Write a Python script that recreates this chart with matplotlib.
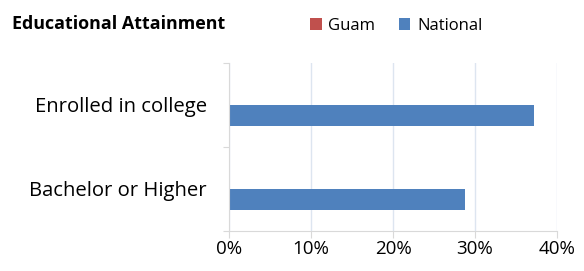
import matplotlib.pyplot as plt
import numpy as np

categories = ["Bachelor or Higher", "Enrolled in college"]
guam = [0.0, 0.0]
national = [28.8, 37.2]
xticks = [0, 10, 20, 30, 40]

plt.rcParams['font.family'] = ['Open Sans', 'DejaVu Sans']

fig = plt.figure(figsize=(5.84, 2.71), dpi=100)
ax = fig.add_axes([229 / 584, 1 - 230.7 / 271, 328 / 584, 168 / 271])

y = np.arange(len(categories))
h = 0.257
ax.barh(y + h / 2, guam, height=h, color="#c0504d", label="Guam")
ax.barh(y - h / 2, national, height=h, color="#4f81bd", label="National")

ax.set_xlim(0, 40)
ax.set_ylim(-0.5, 1.5)
ax.set_xticks(xticks)
ax.set_xticklabels([f"{t}%" for t in xticks], fontsize=13.5)
ax.set_yticks([-0.5, 0.5, 1.5])
ax.set_yticklabels([])
ax.set_yticks(y, minor=True)
ax.set_yticklabels(categories, minor=True, fontsize=14.6)
ax.tick_params(axis="y", which="minor", length=0, pad=16)
ax.tick_params(axis="y", which="major", length=4, color="#d9d9d9")
ax.tick_params(axis="x", length=5, color="#d9d9d9", pad=2)
ax.grid(axis="x", color="#dde5f0", linewidth=1)
ax.set_axisbelow(True)
for s in ["top", "right"]:
    ax.spines[s].set_visible(False)
for s in ["left", "bottom"]:
    ax.spines[s].set_color("#d9d9d9")

fig.text(12 / 584, 1 - 24 / 271, "Educational Attainment", fontsize=12.9,
         fontweight="bold", va="center", ha="left")
handles, labels = ax.get_legend_handles_labels()
fig.legend(handles, labels, loc="center left", bbox_to_anchor=(295 / 584, 1 - 26 / 271),
           ncol=2, frameon=False, fontsize=12, handlelength=0.7, handleheight=0.7,
           handletextpad=0.4, columnspacing=1.4)

fig.savefig("out.png", dpi=100)
